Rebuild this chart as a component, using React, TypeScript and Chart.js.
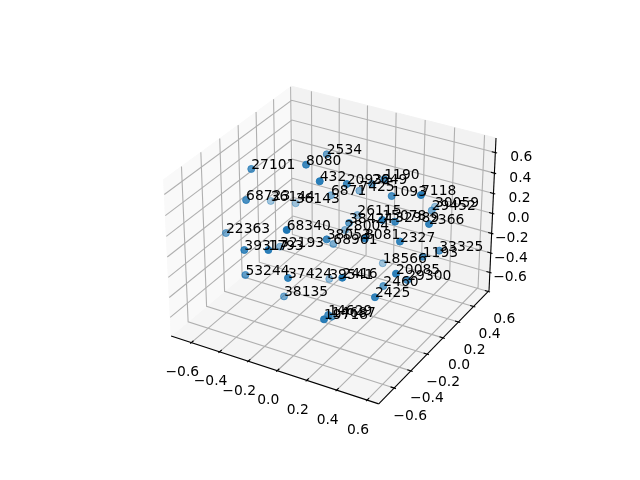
import React, { useEffect, useRef } from "react";
import { Chart, registerables } from "chart.js";
Chart.register(...registerables);

const labels = ["27101","2534","8080","432","20932","6871","7425","2649","1190","1093","7118","30059","29452","2366","26115","38424","15078","32989","28004","38053","68961","8081","2327","33325","1193","18566","20085","29300","2460","2425","19718","14629","14687","38135","53244","37424","39541","2416","39317","1793","32193","22363","68340","68723","36144","36143"];
const xs = [-0.446,-0.191,-0.066,0.132,0.164,-0.213,-0.121,0.138,0.294,0.355,0.644,0.213,0.389,0.677,-0.145,0.078,0.491,0.458,-0.137,0.144,-0.126,0.433,0.559,0.627,0.599,0.018,0.633,0.555,0.347,0.515,0.347,0.209,0.128,-0.253,-0.376,0.060,-0.197,0.408,-0.250,-0.021,-0.458,-0.652,0.094,-0.370,-0.688,-0.549];
const ys = [-0.324,0.107,-0.334,-0.513,-0.267,0.193,0.379,0.074,-0.060,-0.080,-0.268,0.747,0.363,-0.224,0.398,-0.090,-0.434,-0.223,0.233,-0.458,0.074,-0.525,-0.347,0.011,-0.141,0.437,-0.524,-0.242,-0.149,-0.550,-0.830,-0.552,-0.375,-0.293,-0.520,-0.745,0.145,-0.733,-0.715,-0.818,-0.006,-0.302,-0.806,-0.502,0.258,0.329];
const zs = [0.644,0.592,0.836,0.881,0.698,0.123,0.075,0.453,0.651,0.530,0.785,-0.214,0.091,0.498,-0.195,0.167,0.611,0.430,-0.225,0.304,-0.246,0.481,0.374,0.050,0.093,-0.655,0.236,-0.075,-0.297,-0.019,-0.083,-0.327,-0.522,-0.553,-0.216,0.117,-0.689,0.261,0.228,0.401,-0.353,-0.078,0.626,0.501,-0.169,-0.187];
const tickValues = [-0.6,-0.4,-0.2,0,0.2,0.4,0.6];
const xLim = [-0.745,0.676], yLim = [-0.78,0.61], zLim = [-0.79,0.74];

const BX=1.1905, BZ=0.8929;
const sx=BX/(xLim[1]-xLim[0]), sy=BX/(yLim[1]-yLim[0]), sz=BZ/(zLim[1]-zLim[0]);
const cx=(xLim[0]+xLim[1])/2, cy=(yLim[0]+yLim[1])/2, cz=(zLim[0]+zLim[1])/2;
const U=[0.8660254,0.5,0], V=[-0.25,0.4330127,0.8660254], W=[0.4330127,-0.75,0.5];
const K=369.6/0.185, OX=333, OY=237.4;
function proj(x:number,y:number,z:number){
  const X=(x-cx)*sx,Y=(y-cy)*sy,Z=(z-cz)*sz;
  const a=U[0]*X+U[1]*Y, b=V[0]*X+V[1]*Y+V[2]*Z, D=W[0]*X+W[1]*Y+W[2]*Z, d=10-D;
  return {x:OX+K*a/d,y:OY-K*b/d,D};
}
const line=(pts:number[][],color:string,w:number,order:number)=>({type:"line",data:pts.map(p=>{const q=proj(p[0],p[1],p[2]);return {x:q.x,y:q.y};}),borderColor:color,borderWidth:w,pointRadius:0,fill:false,tension:0,order});
const pane=(pts:number[][],color:string)=>({type:"line",data:pts.map(p=>{const q=proj(p[0],p[1],p[2]);return {x:q.x,y:q.y};}),borderColor:color,borderWidth:1,backgroundColor:color,pointRadius:0,fill:"shape",tension:0,order:5});

export default function App(){
  const ref=useRef<HTMLCanvasElement>(null);
  useEffect(()=>{
    document.body.style.margin="0";
    const [x0,x1]=xLim,[y0,y1]=yLim,[z0,z1]=zLim;
    const ds:any[]=[];
    ds.push(pane([[x0,y0,z0],[x0,y1,z0],[x0,y1,z1],[x0,y0,z1],[x0,y0,z0]],"rgb(249,249,249)"));
    ds.push(pane([[x0,y1,z0],[x1,y1,z0],[x1,y1,z1],[x0,y1,z1],[x0,y1,z0]],"rgb(242,242,242)"));
    ds.push(pane([[x0,y0,z0],[x1,y0,z0],[x1,y1,z0],[x0,y1,z0],[x0,y0,z0]],"rgb(245,245,245)"));
    const G="rgb(176,176,176)";
    for(const t of tickValues){
      ds.push(line([[t,y0,z0],[t,y1,z0],[t,y1,z1]],G,1.1,4));
      ds.push(line([[x1,t,z0],[x0,t,z0],[x0,t,z1]],G,1.1,4));
      ds.push(line([[x0,y0,t],[x0,y1,t],[x1,y1,t]],G,1.1,4));
      const dy=(y1-y0)/12,dx=(x1-x0)/12;
      ds.push(line([[t,y0-0.1*dy,z0],[t,y0+0.2*dy,z0]],"#000",1.1,1));
      ds.push(line([[x1+0.1*dx,t,z0],[x1-0.2*dx,t,z0]],"#000",1.1,1));
      ds.push(line([[x1+0.1*dx,y1,t],[x1-0.2*dx,y1,t]],"#000",1.1,1));
    }
    ds.push(line([[x0,y0,z0],[x1,y0,z0]],"#000",1.1,2));
    ds.push(line([[x1,y0,z0],[x1,y1,z0]],"#000",1.1,2));
    ds.push(line([[x1,y1,z0],[x1,y1,z1]],"#000",1.1,2));
    const pts=xs.map((x,i)=>proj(x,ys[i],zs[i]));
    const colors=pts.map(q=>`rgba(31,119,180,${Math.min(1,Math.max(.3,(q.D+1.3)/2))})`);
    ds.push({type:"scatter",data:pts.map(q=>({x:q.x,y:q.y})),pointRadius:3.5,pointBorderWidth:1,backgroundColor:colors,borderColor:colors,order:0});
    const textPlugin={id:"txt",afterDatasetsDraw(c:any){
      const g=c.ctx,sX=c.scales.x,sY=c.scales.y;
      g.save();g.fillStyle="#000";g.font='13.89px "DejaVu Sans"';
      g.textAlign="left";g.textBaseline="alphabetic";
      labels.forEach((s,i)=>g.fillText(s,sX.getPixelForValue(pts[i].x),sY.getPixelForValue(pts[i].y)));
      g.textAlign="center";g.textBaseline="middle";
      const fmt=(t:number)=>(t<0?"\u2212":"")+Math.abs(t).toFixed(1);
      for(const t of tickValues){
        let q=proj(t,y0,z0);g.fillText(fmt(t),sX.getPixelForValue(q.x-9),sY.getPixelForValue(q.y+30));
        q=proj(x1,t,z0);g.fillText(fmt(t),sX.getPixelForValue(q.x+16),sY.getPixelForValue(q.y+28));
        q=proj(x1,y1,t);g.textAlign="right";g.fillText(fmt(t),sX.getPixelForValue(q.x+37),sY.getPixelForValue(q.y+5));g.textAlign="center";
      }
      g.restore();
    }};
    const chart=new Chart(ref.current!,{type:"scatter",data:{datasets:ds},plugins:[textPlugin],options:{animation:false,responsive:false,
      layout:{padding:0,autoPadding:false},plugins:{legend:{display:false},tooltip:{enabled:false}},
      scales:{x:{type:"linear",display:false,min:0,max:640},y:{type:"linear",display:false,min:0,max:480,reverse:true}}} as any});
    return ()=>chart.destroy();
  },[]);
  return <canvas ref={ref} width={640} height={480} style={{display:"block"}}/>;
}
